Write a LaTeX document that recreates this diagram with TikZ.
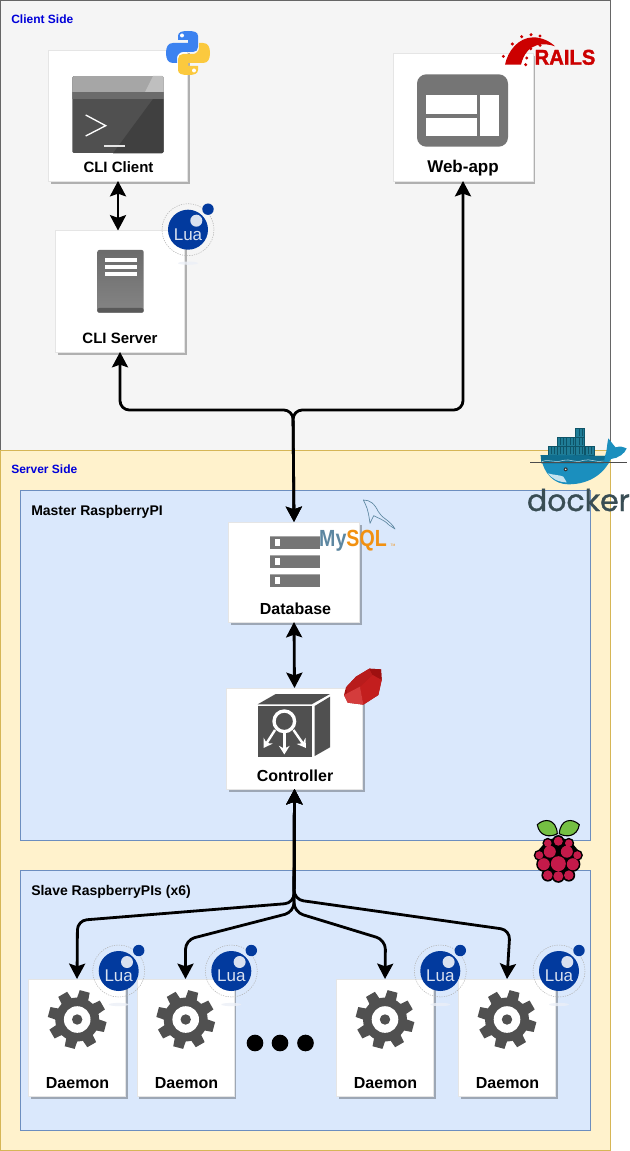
\documentclass[tikz,border=0pt]{standalone}
\usepackage{fontspec}
\setmainfont{Liberation Sans}
\newfontfamily\dockerfont[FakeBold=1]{Poppins}
\newfontfamily\railsfont[BoldFeatures={FakeBold=1.5}]{Liberation Sans}
\usetikzlibrary{arrows.meta,shadows}

\definecolor{clientfill}{HTML}{F5F5F5}
\definecolor{clientline}{HTML}{666666}
\definecolor{serverfill}{HTML}{FFF2CC}
\definecolor{serverline}{HTML}{D6B656}
\definecolor{pifill}{HTML}{DAE8FC}
\definecolor{piline}{HTML}{6C8EBF}
\definecolor{iconfill}{HTML}{757575}
\definecolor{gearfill}{HTML}{505050}
\definecolor{luablue}{HTML}{023A9E}
\definecolor{pyblue}{HTML}{3C82F0}
\definecolor{pyyellow}{HTML}{FBC93E}
\definecolor{railsred}{HTML}{CC0000}
\definecolor{mysqlblue}{HTML}{5D87A1}
\definecolor{mysqlorange}{HTML}{F29111}
\definecolor{whaleblue}{HTML}{1B8FBE}
\definecolor{whaledark}{HTML}{0F6E8F}
\definecolor{boxteal}{HTML}{1F7C96}
\definecolor{boxdark}{HTML}{0E5468}
\definecolor{dockertext}{HTML}{394D54}
\definecolor{berryred}{HTML}{C51A4A}
\definecolor{leafgreen}{HTML}{75C043}
\definecolor{rubybase}{HTML}{A81212}
\definecolor{rubycrown}{HTML}{B81C1C}
\definecolor{rubyside}{HTML}{9E1010}
\definecolor{rubyface}{HTML}{C31E1E}
\definecolor{rubypale}{HTML}{D43C3C}

\tikzset{
    region/.style={draw=#1, line width=0.75pt, inner sep=0pt, outer sep=0pt},
    regiontext/.style={anchor=base west, inner sep=0pt, font=\bfseries\fontsize{10.5}{12}\selectfont},
    sidetext/.style={anchor=base west, inner sep=0pt, text=blue!85!black, font=\bfseries\fontsize{9}{11}\selectfont},
    card/.style={fill=white, draw=black!10, line width=0.4pt, inner sep=0pt, outer sep=0pt,
        drop shadow={shadow xshift=1.6pt, shadow yshift=-1.9pt, opacity=0.28, fill=black}},
    cardtext/.style={anchor=base, inner sep=0pt, font=\bfseries\fontsize{#1}{14}\selectfont},
    link/.style={line width=2.1pt, rounded corners=7pt,
        {Stealth[length=11.5pt,width=12pt,inset=2pt]}-{Stealth[length=11.5pt,width=12pt,inset=2pt]}},
    zoomed/.style={x=0.25pt, y=-0.25pt},
    pics/lualogo/.style={code={
        \fill[luablue!8, opacity=0.8] (0,33.5) ellipse (10 and 1.6);
        \draw[black!30, line width=0.4pt, dash pattern=on 0.9pt off 0.9pt] (0,0) circle (26);
        \fill[luablue] (0,0) circle (20);
        \fill[luablue] (20,-20.5) circle (5.7);
        \fill[white!85!luablue] (8.3,-9) circle (6);
        \node[inner sep=0pt, text=white!85!luablue, font=\fontsize{12.75}{14}\selectfont] (text) at (0,5) {Lua};
    }},
    pics/gearicon/.style={code={
        \fill[gearfill] (0,0) circle (22);
        \foreach \a in {0,45,...,315} {
            \fill[gearfill] (\a-2:20) -- (\a+5:29.5) -- (\a+25:29.5) -- (\a+32:20) -- cycle;
        }
        \fill[white] (0,0) circle (13.3);
        \fill[gearfill] (0,0) circle (5.2);
    }},
}

\begin{document}
\begin{tikzpicture}[x=0.75pt, y=-0.75pt]
    \useasboundingbox (0,0) rectangle (629,1151);

    % Regions
    \draw[region=clientline, fill=clientfill] (0.5,0.5) rectangle (610.5,450.5);
    \draw[region=serverline, fill=serverfill] (0.5,450.5) rectangle (610.5,1150.5);
    \draw[region=piline, fill=pifill] (20.5,490.5) rectangle (590.5,840.5);
    \draw[region=piline, fill=pifill] (20.5,870.5) rectangle (590.5,1130.5);
    \node[sidetext] (clientside) at (11,23.5) {Client Side};
    \node[sidetext] (serverside) at (11,473) {Server Side};
    \node[regiontext] (masterpi) at (31,515) {Master RaspberryPI};
    \node[regiontext] (slavepi) at (31,895) {Slave RaspberryPIs (x6)};

    % Cards
    \node[card, minimum width=104.25pt, minimum height=98.25pt] (cliclient) at (118,115.5) {};
    \node[card, minimum width=96.75pt, minimum height=91.1pt] (cliserver) at (120,291.25) {};
    \node[card, minimum width=105pt, minimum height=96pt] (webapp) at (463,117) {};
    \node[card, minimum width=98.25pt, minimum height=75pt] (database) at (294,572) {};
    \node[card, minimum width=102pt, minimum height=75.75pt] (controller) at (294.5,738.5) {};
    \node[card, minimum width=72.75pt, minimum height=87.75pt] (daemona) at (77,1037.5) {};
    \node[card, minimum width=72.75pt, minimum height=87.75pt] (daemonb) at (185.5,1037.5) {};
    \node[card, minimum width=72.75pt, minimum height=87.75pt] (daemonc) at (385,1037.5) {};
    \node[card, minimum width=72.75pt, minimum height=87.75pt] (daemond) at (507,1037.5) {};

    \node[cardtext=11.25] (cliclienttext) at (118.5,172.5) {CLI Client};
    \node[cardtext=11.25] (cliservertext) at (120,343.5) {CLI Server};
    \node[cardtext=12.75] (webapptext) at (463,172.5) {Web-app};
    \node[cardtext=12] (databasetext) at (295.5,614.5) {Database};
    \node[cardtext=12] (controllertext) at (295,781.5) {Controller};
    \node[cardtext=12] (daemonatext) at (77.5,1088.5) {Daemon};
    \node[cardtext=12] (daemonbtext) at (186.5,1088.5) {Daemon};
    \node[cardtext=12] (daemonctext) at (385.5,1088.5) {Daemon};
    \node[cardtext=12] (daemondtext) at (507.5,1088.5) {Daemon};

    % Connectors
    \coordinate (tophub) at (293,410);
    \coordinate (hubd) at (294,899.5);
    \coordinate (huba) at (294,903);
    \coordinate (hubb) at (294,912);
    \coordinate (bendd) at (510,930);
    \coordinate (benda) at (77.5,920.5);
    \coordinate (bendb) at (185.5,940);
    \coordinate (bendc) at (385.5,940);
    \draw[link] (cliclient.south) -- (cliclient.south |- cliserver.north);
    \draw[link] (cliserver.south) |- (tophub) -- (database.north);
    \draw[link] (webapp.south) |- (tophub) -- (database.north);
    \draw[link] (database.south) -- (controller.north);
    \draw[link] (controller.south) -- (huba) -- (benda) -- (daemona.north);
    \draw[link] (controller.south) -- (hubb) -- (bendb) -- (daemonb.north);
    \draw[link] (controller.south) -- (hubb) -- (bendc) -- (daemonc.north);
    \draw[link] (controller.south) -- (hubd) -- (bendd) -- (daemond.north);

    % Dots
    \foreach \x/\n in {255/a,280/b,305.5/c} {
        \node[circle, fill=black, inner sep=0pt, minimum size=12.5pt] (dot\n) at (\x,1043) {};
    }

    % Terminal
    \begin{scope}
        \clip[rounded corners=1.2pt] (72.3,76) rectangle (163.7,153.3);
        \fill[gearfill] (72.3,76) rectangle (163.7,153.3);
        \fill[black!75] (153,99) -- (163.7,99) -- (163.7,153.3) -- (113,153.3) -- cycle;
        \fill[black!35] (72.3,76) rectangle (163.7,92);
        \fill[black!25] (163.7,76) -- (153,76) -- (145,92) -- (163.7,92) -- cycle;
        \fill[black!58] (72.3,92) rectangle (163.7,99);
    \end{scope}
    \draw[white, line width=1pt] (85.7,115) -- (105.7,125.7) -- (85.7,136);
    \draw[black!10, line width=1.8pt] (104.3,146) -- (125,146);

    % Server
    \shade[top color=black!58, bottom color=black!48, rounded corners=1.5pt] (97.3,250) rectangle (143.7,312.7);
    \fill[black!65, rounded corners=1.5pt] (97.3,308) rectangle (143.7,312.7);
    \fill[white] (104.7,258.5) rectangle (137,262.5);
    \fill[white] (104.7,265.2) rectangle (137,269.2);
    \fill[white] (104.7,271.8) rectangle (137,275.8);

    % Web page
    \fill[iconfill, rounded corners=7pt] (417,74.3) rectangle (508,146.7);
    \fill[white] (425.7,95) rectangle (476.7,113.7);
    \fill[white] (425.7,117.7) rectangle (476.7,136.3);
    \fill[white] (480.3,95) rectangle (499.3,136.3);

    % Database bars
    \foreach \y in {536,555,574} {
        \fill[iconfill] (270,\y) rectangle (320,\y+12.7);
        \fill[black!35] (270,\y) rectangle (320,\y+1);
        \fill[white] (275,\y+3) rectangle (280,\y+10);
    }

    % Controller cube
    \fill[gearfill] (257.7,706) rectangle (311.7,756.7);
    \fill[gearfill] (257.7,704.3) -- (275.7,694) -- (330,694) -- (311.7,704.3) -- cycle;
    \fill[gearfill] (314.7,706) -- (330,696.7) -- (330,747.3) -- (314.7,756) -- cycle;
    \draw[white, line width=2.5pt] (284.3,721.3) circle (10.3);
    \draw[white, line width=1.8pt, -{Stealth[length=6.5pt,width=8pt]}] (284.3,733) -- (284.3,754.5);
    \draw[white, line width=1.8pt, -{Stealth[length=6.5pt,width=8pt]}] (275,730) -- (263.5,748);
    \draw[white, line width=1.8pt, -{Stealth[length=6.5pt,width=8pt]}] (293.5,730) -- (306,748);

    % Gears
    \pic (geara) at (77.2,1019.5) {gearicon};
    \pic (gearb) at (185.7,1019.5) {gearicon};
    \pic (gearc) at (385,1019.5) {gearicon};
    \pic (geard) at (507,1019.5) {gearicon};

    % Lua
    \pic (luaserver) at (188,229.7) {lualogo};
    \pic (luaa) at (118.7,971) {lualogo};
    \pic (luab) at (231.3,971) {lualogo};
    \pic (luac) at (440.3,971) {lualogo};
    \pic (luad) at (559,971) {lualogo};

    % Python
    \begin{scope}[shift={(188,53)}]
        \foreach \r/\c in {0/pyblue,180/pyyellow} {
            \begin{scope}[rotate=\r]
                \fill[\c] (-10,-13) -- (-10,-17) .. controls (-10,-21) and (-6,-22) .. (0,-22)
                    .. controls (6,-22) and (10,-21) .. (10,-17)
                    -- (10,-6) .. controls (10,-3) and (8,-1) .. (5,-1)
                    -- (-5,-1) .. controls (-8,-1) and (-11,2) .. (-11,5)
                    -- (-11,10) -- (-15,10) .. controls (-20,10) and (-22,6) .. (-22,0)
                    .. controls (-22,-6) and (-20,-10) .. (-15,-10)
                    -- (0,-10) -- (0,-13) -- cycle;
                \fill[white] (-6,-17.5) circle (2);
            \end{scope}
        }
    \end{scope}

    % Rails
    \begin{scope}[shift={(495,28)}, zoomed]
        \fill[railsred] (30,110) .. controls (38,70) and (70,28) .. (115,28)
            .. controls (140,28) and (165,40) .. (180,55)
            .. controls (150,44) and (95,40) .. (78,110) -- cycle;
        \foreach \p in {(25,85),(52,48),(80,26),(108,20),(135,24),(95,90),(92,110),(107,62),(135,52)} {
            \fill[railsred] \p circle (5);
        }
        \node[anchor=base west, inner sep=0pt, text=railsred, xscale=0.95,
            font=\railsfont\bfseries\fontsize{16}{18}\selectfont] (railstext) at (118,110) {RAILS};
    \end{scope}

    % MySQL
    \begin{scope}[shift={(315,495)}, zoomed]
        \draw[mysqlblue, line width=0.5pt, line join=round]
            (145,15) .. controls (165,15) and (178,25) .. (190,50)
            .. controls (200,70) and (225,75) .. (240,102) -- (222,90)
            .. controls (205,72) and (185,68) .. (176,62) -- (165,85)
            .. controls (162,65) and (160,45) .. (150,25) -- cycle;
        \node[anchor=base west, inner sep=0pt, xscale=0.84, font=\bfseries\fontsize{17.5}{19}\selectfont]
            (mysqltext) at (12,155) {\textcolor{mysqlblue}{My}\textcolor{mysqlorange}{SQL}};
        \node[anchor=base west, inner sep=0pt, text=mysqlorange, font=\fontsize{2.5}{3}\selectfont]
            (mysqltm) at (226,155) {TM};
    \end{scope}

    % Ruby
    \begin{scope}[shift={(210,660)}, zoomed]
        \fill[rubybase] (402,105) -- (408,82) -- (438,50) -- (478,26) -- (513,28) -- (515,60) -- (505,105) -- (460,134) -- (413,128) -- cycle;
        \fill[rubycrown] (408,82) -- (438,50) -- (478,26) -- (488,45) -- (450,80) -- (412,104) -- cycle;
        \fill[rubyside] (478,26) -- (513,28) -- (515,60) -- (488,45) -- cycle;
        \fill[rubyface] (450,80) -- (488,45) -- (515,60) -- (505,105) -- (460,134) -- cycle;
        \fill[rubypale] (402,105) -- (450,80) -- (460,134) -- (413,128) -- cycle;
    \end{scope}

    % Raspberry
    \begin{scope}[shift={(558.3,858.7)}]
        \foreach \s in {1,-1} {
            \draw[black, fill=leafgreen, line width=0.8pt] (\s*-21,-34) .. controls (\s*-14,-41) and (\s*-2,-40) .. (\s*-1,-25)
                .. controls (\s*-8,-21) and (\s*-19,-22) .. (\s*-21,-34) -- cycle;
        }
        \fill[black, rounded corners=3pt] (-10,-20) -- (10,-20) -- (22,-6) -- (20,10) -- (0,22) -- (-20,10) -- (-22,-6) -- cycle;
        \foreach \x/\y/\r in {0/-17.5/4.5,-10.5/-15.5/3.8,10.5/-15.5/3.8,-8.5/-7/6,8.5/-7/6,-19/-3.5/4,19/-3.5/4,0/5/7.5,-14.5/5.5/6,14.5/5.5/6,-10.5/16.5/4.8,10.5/16.5/4.8,0/17.5/5} {
            \fill[black] (\x,\y) circle (\r+1.6);
        }
        \foreach \x/\y/\r in {0/-17.5/4.5,-10.5/-15.5/3.8,10.5/-15.5/3.8,-8.5/-7/6,8.5/-7/6,-19/-3.5/4,19/-3.5/4,0/5/7.5,-14.5/5.5/6,14.5/5.5/6,-10.5/16.5/4.8,10.5/16.5/4.8,0/17.5/5} {
            \fill[berryred] (\x,\y) circle (\r);
        }
    \end{scope}

    % Docker
    \begin{scope}[shift={(525,425)}, zoomed]
        \foreach \x/\y in {152/10,97/37,125/37,152/37,70/63,97/63,125/63,152/63,180/63} {
            \draw[boxdark, fill=boxteal, line width=0.4pt] (\x,\y) rectangle (\x+27,\y+27);
            \draw[boxdark, line width=0.2pt] (\x+9,\y+3) -- (\x+9,\y+24) (\x+18,\y+3) -- (\x+18,\y+24);
        }
        \fill[whaleblue] (47,90) -- (240,93) .. controls (247,75) and (245,60) .. (250,40)
            .. controls (258,50) and (265,60) .. (272,67) .. controls (285,63) and (295,65) .. (305,70)
            .. controls (300,85) and (280,100) .. (258,102)
            .. controls (240,140) and (200,178) .. (130,178)
            .. controls (90,178) and (55,150) .. (47,90) -- cycle;
        \fill[whaledark] (47,90) -- (240,93) -- (236,115) -- (49,115) -- cycle;
        \fill[white!75!whaleblue] (68,145) .. controls (85,150) and (105,150) .. (115,155)
            .. controls (120,162) and (122,168) .. (125,172)
            .. controls (100,172) and (80,160) .. (68,145) -- cycle;
        \draw[black!70, line width=0.4pt] (15,113) -- (305,113);
        \draw[white!70!whaleblue, line width=0.4pt] (50,110) .. controls (75,100) and (85,116) .. (115,106)
            .. controls (135,100) and (150,116) .. (175,106) .. controls (195,100) and (215,114) .. (236,108);
        \fill[black!80] (122,133) circle (6);
        \fill[white] (122,133) circle (2.5);
        \node[anchor=base west, inner sep=0pt, text=dockertext, font=\dockerfont\fontsize{22.5}{24}\selectfont]
            (dockertitle) at (5,258) {docker};
    \end{scope}
\end{tikzpicture}
\end{document}
